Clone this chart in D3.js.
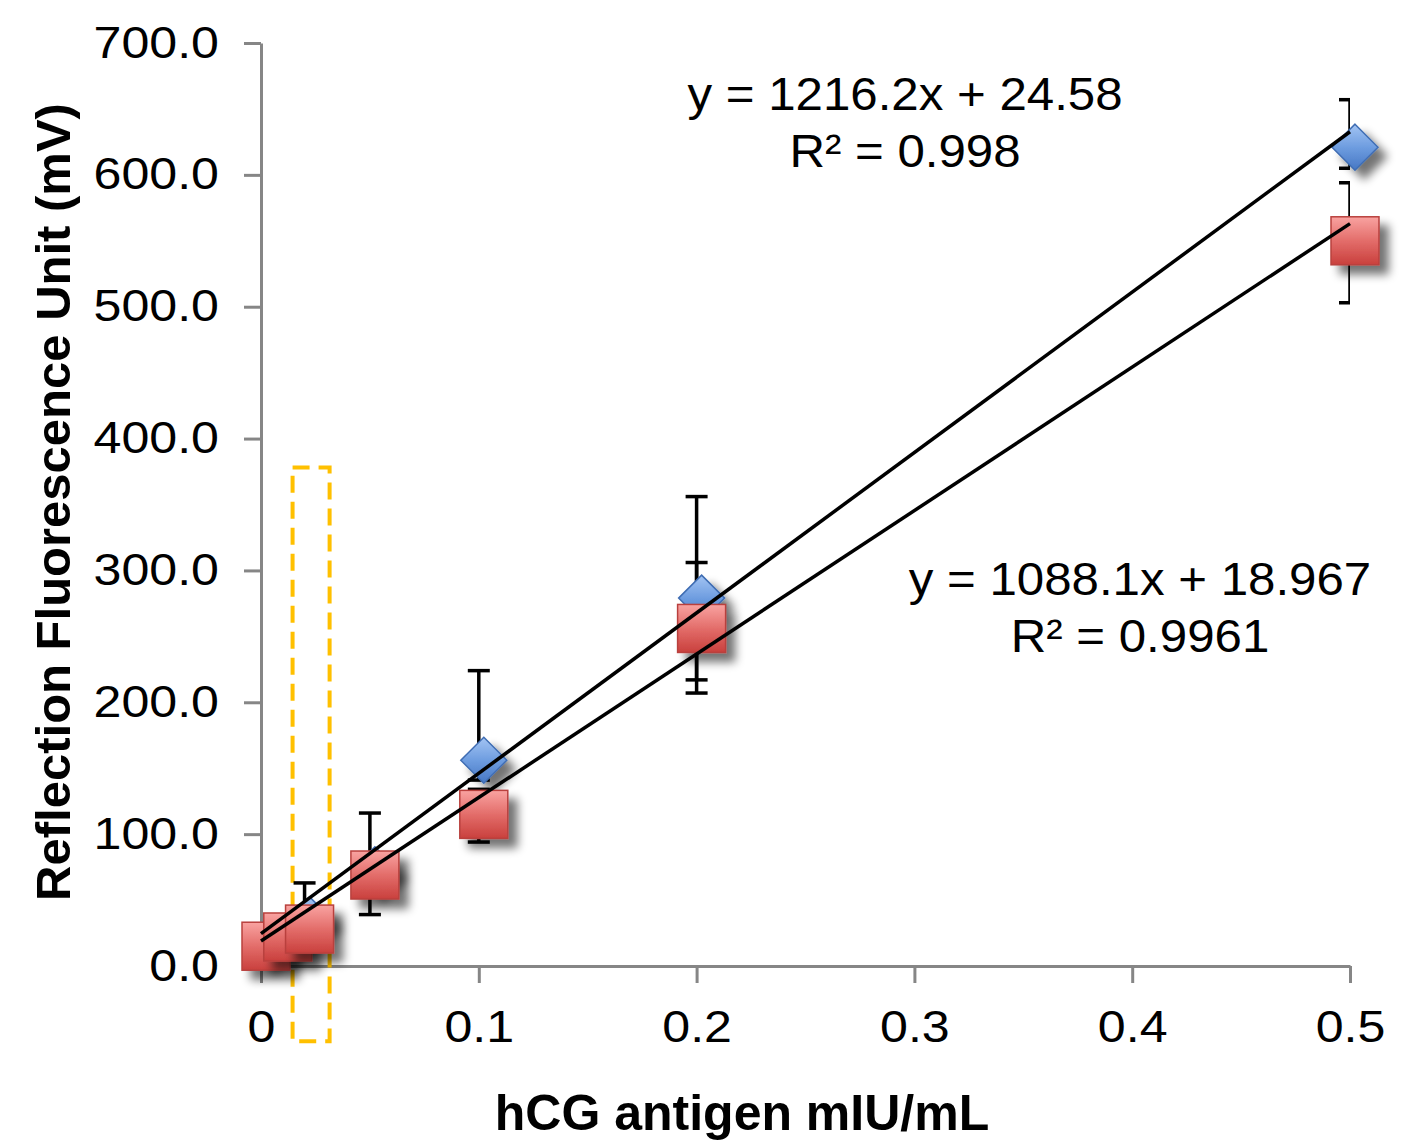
<!DOCTYPE html>
<html>
<head>
<meta charset="utf-8">
<script src="https://cdn.jsdelivr.net/npm/d3@7"></script>
<style>
  body { margin: 0; background: #fff; }
  svg { display: block; font-family: "Liberation Sans", Arial, sans-serif; }
</style>
</head>
<body>
<svg id="chart"></svg>
<script>
// hCG antigen concentrations (mIU/mL)
const conc = [0, 0.01, 0.02, 0.05, 0.1, 0.2, 0.5];

// series 1 (blue diamonds) values and error bar ends
const blueVals = [18, 24, 35, 73, 156, 279, 621];
const blueHi = [22, 30, 63, 85, 224, 356, 657];
const blueLo = [14, 18, 12, 61, 141, 217, 605];

// series 2 (red squares)
const redVals = [15, 22, 28, 69, 115, 256, 550];
const redHi = [20, 27, 33, 116, 134, 306, 594];
const redLo = [10, 17, 23, 39, 94, 207, 503];

// linear trendlines [slope, intercept]
const blueFit = [1216.2, 24.58];
const redFit = [1088.1, 18.967];
const blueLabel = ["y = 1216.2x + 24.58", "R² = 0.998"];
const redLabel = ["y = 1088.1x + 18.967", "R² = 0.9961"];

const yTicks = [0, 100, 200, 300, 400, 500, 600, 700];
const xTicks = [0, 0.1, 0.2, 0.3, 0.4, 0.5];

// highlight box around the low concentrations (data units)
const boxX = [0.0145, 0.0315];
const boxY = [-57, 378];

const W = 1409, H = 1141;
const svg = d3.select("#chart").attr("width", W).attr("height", H);

const x = d3.scaleLinear().domain([0, 0.5]).range([261, 1350]);
const y = d3.scaleLinear().domain([0, 700]).range([966, 43]);
const markerDx = 5; // markers sit a little right of their error bars in the original

// the original text is a bit wider than Arial at its height
const stretch = (sel, k) => {
  sel.each(function () {
    const len = this.getComputedTextLength();
    d3.select(this).attr("textLength", len * k).attr("lengthAdjust", "spacingAndGlyphs");
  });
};

const defs = svg.append("defs");
const shadow = defs.append("filter").attr("id", "shadow")
  .attr("x", "-50%").attr("y", "-50%").attr("width", "200%").attr("height", "200%");
shadow.append("feGaussianBlur").attr("in", "SourceAlpha").attr("stdDeviation", 5).attr("result", "b");
shadow.append("feOffset").attr("in", "b").attr("dx", 9).attr("dy", 9).attr("result", "o");
shadow.append("feComponentTransfer").attr("in", "o").attr("result", "s")
  .append("feFuncA").attr("type", "linear").attr("slope", 0.55);
const merge = shadow.append("feMerge");
merge.append("feMergeNode").attr("in", "s");
merge.append("feMergeNode").attr("in", "SourceGraphic");

const redGrad = defs.append("linearGradient").attr("id", "redGrad")
  .attr("x1", 0).attr("y1", 0).attr("x2", 0).attr("y2", 1);
redGrad.append("stop").attr("offset", "0%").attr("stop-color", "#f9a3a1");
redGrad.append("stop").attr("offset", "50%").attr("stop-color", "#e36d6a");
redGrad.append("stop").attr("offset", "100%").attr("stop-color", "#c9403d");

const blueGrad = defs.append("linearGradient").attr("id", "blueGrad")
  .attr("x1", 0).attr("y1", 0).attr("x2", 0).attr("y2", 1);
blueGrad.append("stop").attr("offset", "0%").attr("stop-color", "#a3c4f3");
blueGrad.append("stop").attr("offset", "50%").attr("stop-color", "#6e9de0");
blueGrad.append("stop").attr("offset", "100%").attr("stop-color", "#4677c4");

defs.append("clipPath").attr("id", "plotClip").append("rect")
  .attr("x", x(0)).attr("y", y(700)).attr("width", x(0.5) - x(0)).attr("height", y(0) - y(700));

// axes
const axisColor = "#868686";
const yAxis = svg.append("g").attr("transform", `translate(${x(0)},0)`)
  .call(d3.axisLeft(y).tickValues(yTicks).tickFormat(d3.format(".1f")).tickSize(17).tickSizeOuter(0).tickPadding(25));
const xAxis = svg.append("g").attr("transform", `translate(0,${y(0)})`)
  .call(d3.axisBottom(x).tickValues(xTicks).tickFormat((d) => (d === 0 ? "0" : d.toFixed(1))).tickSize(17).tickSizeOuter(0).tickPadding(28));
[yAxis, xAxis].forEach((g) => {
  g.select(".domain").attr("stroke", axisColor).attr("stroke-width", 3);
  g.selectAll(".tick line").attr("stroke", axisColor).attr("stroke-width", 3);
  g.selectAll(".tick text").attr("fill", "#000").attr("font-size", 44).attr("font-family", "Liberation Sans, Arial, sans-serif")
    .call(stretch, 1.14);
});

// axis titles
svg.append("text")
  .attr("x", 742).attr("y", 1130)
  .attr("text-anchor", "middle").attr("font-size", 50).attr("font-weight", "bold")
  .text("hCG antigen mIU/mL");
svg.append("text")
  .attr("transform", "translate(70,502) rotate(-90)")
  .attr("text-anchor", "middle").attr("font-size", 49).attr("font-weight", "bold")
  .text("Reflection Fluorescence Unit (mV)");

// highlight box
svg.append("rect")
  .attr("x", x(boxX[0])).attr("y", y(boxY[1]))
  .attr("width", x(boxX[1]) - x(boxX[0])).attr("height", y(boxY[0]) - y(boxY[1]))
  .attr("fill", "none").attr("stroke", "#ffc000").attr("stroke-width", 4)
  .attr("stroke-dasharray", "17,9");

// error bars (clipped to plot area)
const series = [
  { vals: blueVals, hi: blueHi, lo: blueLo },
  { vals: redVals, hi: redHi, lo: redLo },
];
const errG = svg.append("g").attr("clip-path", "url(#plotClip)")
  .attr("stroke", "#000").attr("stroke-width", 3.5);
series.forEach((s) => {
  conc.forEach((c, i) => {
    const cx = x(c);
    errG.append("line").attr("x1", cx).attr("x2", cx).attr("y1", y(s.hi[i])).attr("y2", y(s.lo[i]));
    [s.hi[i], s.lo[i]].forEach((v) => {
      errG.append("line").attr("x1", cx - 11).attr("x2", cx + 11).attr("y1", y(v)).attr("y2", y(v));
    });
  });
});

// blue diamonds
svg.append("g").selectAll("path.blue")
  .data(conc.map((c, i) => [c, blueVals[i]]))
  .enter().append("path")
  .attr("d", (d) => {
    const cx = x(d[0]) + markerDx, cy = y(d[1]), r = 23;
    return `M${cx},${cy - r}L${cx + r},${cy}L${cx},${cy + r}L${cx - r},${cy}Z`;
  })
  .attr("fill", "url(#blueGrad)").attr("stroke", "#3f6db3").attr("stroke-width", 1.5)
  .attr("filter", "url(#shadow)");

// red squares
svg.append("g").selectAll("rect.red")
  .data(conc.map((c, i) => [c, redVals[i]]))
  .enter().append("rect")
  .attr("x", (d) => x(d[0]) + markerDx - 24).attr("y", (d) => y(d[1]) - 24)
  .attr("width", 48).attr("height", 48)
  .attr("fill", "url(#redGrad)").attr("stroke", "#b9413e").attr("stroke-width", 1.5)
  .attr("filter", "url(#shadow)");

// trendlines
const line = d3.line().x((d) => x(d[0])).y((d) => y(d[1]));
[blueFit, redFit].forEach((f) => {
  svg.append("path")
    .datum([0, 0.5].map((c) => [c, f[0] * c + f[1]]))
    .attr("d", line).attr("fill", "none").attr("stroke", "#000").attr("stroke-width", 3.5);
});

// equation labels
const addLabel = (lines, cx, by) => {
  lines.forEach((t, i) => {
    svg.append("text").attr("x", cx).attr("y", by + i * 57)
      .attr("text-anchor", "middle").attr("font-size", 46).attr("fill", "#000").text(t)
      .call(stretch, 1.07);
  });
};
addLabel(blueLabel, 905, 110);
addLabel(redLabel, 1140, 595);
</script>
</body>
</html>
